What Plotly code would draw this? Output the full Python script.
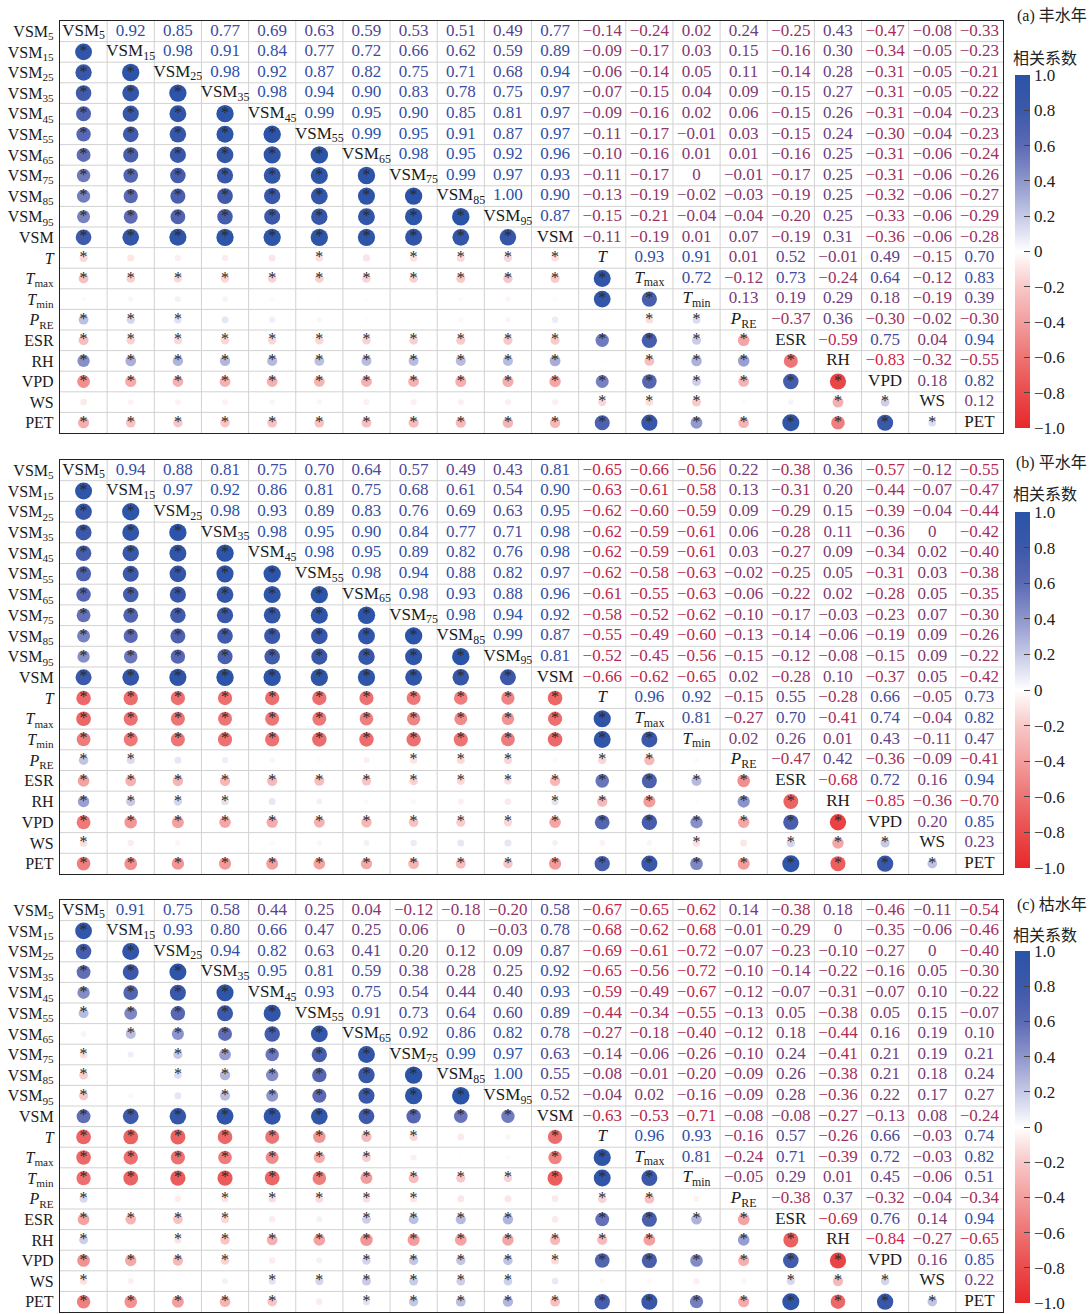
import plotly.graph_objects as go

# ---------------- data ----------------
variables = ["VSM5", "VSM15", "VSM25", "VSM35", "VSM45", "VSM55", "VSM65", "VSM75",
             "VSM85", "VSM95", "VSM", "T", "Tmax", "Tmin", "PRE", "ESR", "RH", "VPD", "WS", "PET"]
var_labels = ["VSM<sub>5</sub>", "VSM<sub>15</sub>", "VSM<sub>25</sub>", "VSM<sub>35</sub>",
              "VSM<sub>45</sub>", "VSM<sub>55</sub>", "VSM<sub>65</sub>", "VSM<sub>75</sub>",
              "VSM<sub>85</sub>", "VSM<sub>95</sub>", "VSM", "<i>T</i>", "<i>T</i><sub>max</sub>",
              "<i>T</i><sub>min</sub>", "<i>P</i><sub>RE</sub>", "ESR", "RH", "VPD", "WS", "PET"]
panel_titles = ["(a) 丰水年", "(b) 平水年", "(c) 枯水年"]
cbar_title = "相关系数"
cbar_tickvals = [1.0, 0.8, 0.6, 0.4, 0.2, 0, -0.2, -0.4, -0.6, -0.8, -1.0]
cbar_ticktext = ["1.0", "0.8", "0.6", "0.4", "0.2", "0", "−0.2", "−0.4", "−0.6", "−0.8", "−1.0"]
# |r| at or above this is marked significant (*) in each panel
sig_threshold = [0.105, 0.095, 0.095]

# upper-triangle rows (row i holds r(i, j) for j > i)
r_wet = [
    [0.92, 0.85, 0.77, 0.69, 0.63, 0.59, 0.53, 0.51, 0.49, 0.77, -0.14, -0.24, 0.02, 0.24, -0.25, 0.43, -0.47, -0.08, -0.33],
    [0.98, 0.91, 0.84, 0.77, 0.72, 0.66, 0.62, 0.59, 0.89, -0.09, -0.17, 0.03, 0.15, -0.16, 0.30, -0.34, -0.05, -0.23],
    [0.98, 0.92, 0.87, 0.82, 0.75, 0.71, 0.68, 0.94, -0.06, -0.14, 0.05, 0.11, -0.14, 0.28, -0.31, -0.05, -0.21],
    [0.98, 0.94, 0.90, 0.83, 0.78, 0.75, 0.97, -0.07, -0.15, 0.04, 0.09, -0.15, 0.27, -0.31, -0.05, -0.22],
    [0.99, 0.95, 0.90, 0.85, 0.81, 0.97, -0.09, -0.16, 0.02, 0.06, -0.15, 0.26, -0.31, -0.04, -0.23],
    [0.99, 0.95, 0.91, 0.87, 0.97, -0.11, -0.17, -0.01, 0.03, -0.15, 0.24, -0.30, -0.04, -0.23],
    [0.98, 0.95, 0.92, 0.96, -0.10, -0.16, 0.01, 0.01, -0.16, 0.25, -0.31, -0.06, -0.24],
    [0.99, 0.97, 0.93, -0.11, -0.17, 0, -0.01, -0.17, 0.25, -0.31, -0.06, -0.26],
    [1.00, 0.90, -0.13, -0.19, -0.02, -0.03, -0.19, 0.25, -0.32, -0.06, -0.27],
    [0.87, -0.15, -0.21, -0.04, -0.04, -0.20, 0.25, -0.33, -0.06, -0.29],
    [-0.11, -0.19, 0.01, 0.07, -0.19, 0.31, -0.36, -0.06, -0.28],
    [0.93, 0.91, 0.01, 0.52, -0.01, 0.49, -0.15, 0.70],
    [0.72, -0.12, 0.73, -0.24, 0.64, -0.12, 0.83],
    [0.13, 0.19, 0.29, 0.18, -0.19, 0.39],
    [-0.37, 0.36, -0.30, -0.02, -0.30],
    [-0.59, 0.75, 0.04, 0.94],
    [-0.83, -0.32, -0.55],
    [0.18, 0.82],
    [0.12],
]
r_normal = [
    [0.94, 0.88, 0.81, 0.75, 0.70, 0.64, 0.57, 0.49, 0.43, 0.81, -0.65, -0.66, -0.56, 0.22, -0.38, 0.36, -0.57, -0.12, -0.55],
    [0.97, 0.92, 0.86, 0.81, 0.75, 0.68, 0.61, 0.54, 0.90, -0.63, -0.61, -0.58, 0.13, -0.31, 0.20, -0.44, -0.07, -0.47],
    [0.98, 0.93, 0.89, 0.83, 0.76, 0.69, 0.63, 0.95, -0.62, -0.60, -0.59, 0.09, -0.29, 0.15, -0.39, -0.04, -0.44],
    [0.98, 0.95, 0.90, 0.84, 0.77, 0.71, 0.98, -0.62, -0.59, -0.61, 0.06, -0.28, 0.11, -0.36, 0, -0.42],
    [0.98, 0.95, 0.89, 0.82, 0.76, 0.98, -0.62, -0.59, -0.61, 0.03, -0.27, 0.09, -0.34, 0.02, -0.40],
    [0.98, 0.94, 0.88, 0.82, 0.97, -0.62, -0.58, -0.63, -0.02, -0.25, 0.05, -0.31, 0.03, -0.38],
    [0.98, 0.93, 0.88, 0.96, -0.61, -0.55, -0.63, -0.06, -0.22, 0.02, -0.28, 0.05, -0.35],
    [0.98, 0.94, 0.92, -0.58, -0.52, -0.62, -0.10, -0.17, -0.03, -0.23, 0.07, -0.30],
    [0.99, 0.87, -0.55, -0.49, -0.60, -0.13, -0.14, -0.06, -0.19, 0.09, -0.26],
    [0.81, -0.52, -0.45, -0.56, -0.15, -0.12, -0.08, -0.15, 0.09, -0.22],
    [-0.66, -0.62, -0.65, 0.02, -0.28, 0.10, -0.37, 0.05, -0.42],
    [0.96, 0.92, -0.15, 0.55, -0.28, 0.66, -0.05, 0.73],
    [0.81, -0.27, 0.70, -0.41, 0.74, -0.04, 0.82],
    [0.02, 0.26, 0.01, 0.43, -0.11, 0.47],
    [-0.47, 0.42, -0.36, -0.09, -0.41],
    [-0.68, 0.72, 0.16, 0.94],
    [-0.85, -0.36, -0.70],
    [0.20, 0.85],
    [0.23],
]
r_dry = [
    [0.91, 0.75, 0.58, 0.44, 0.25, 0.04, -0.12, -0.18, -0.20, 0.58, -0.67, -0.65, -0.62, 0.14, -0.38, 0.18, -0.46, -0.11, -0.54],
    [0.93, 0.80, 0.66, 0.47, 0.25, 0.06, 0, -0.03, 0.78, -0.68, -0.62, -0.68, -0.01, -0.29, 0, -0.35, -0.06, -0.46],
    [0.94, 0.82, 0.63, 0.41, 0.20, 0.12, 0.09, 0.87, -0.69, -0.61, -0.72, -0.07, -0.23, -0.10, -0.27, 0, -0.40],
    [0.95, 0.81, 0.59, 0.38, 0.28, 0.25, 0.92, -0.65, -0.56, -0.72, -0.10, -0.14, -0.22, -0.16, 0.05, -0.30],
    [0.93, 0.75, 0.54, 0.44, 0.40, 0.93, -0.59, -0.49, -0.67, -0.12, -0.07, -0.31, -0.07, 0.10, -0.22],
    [0.91, 0.73, 0.64, 0.60, 0.89, -0.44, -0.34, -0.55, -0.13, 0.05, -0.38, 0.05, 0.15, -0.07],
    [0.92, 0.86, 0.82, 0.78, -0.27, -0.18, -0.40, -0.12, 0.18, -0.44, 0.16, 0.19, 0.10],
    [0.99, 0.97, 0.63, -0.14, -0.06, -0.26, -0.10, 0.24, -0.41, 0.21, 0.19, 0.21],
    [1.00, 0.55, -0.08, -0.01, -0.20, -0.09, 0.26, -0.38, 0.21, 0.18, 0.24],
    [0.52, -0.04, 0.02, -0.16, -0.09, 0.28, -0.36, 0.22, 0.17, 0.27],
    [-0.63, -0.53, -0.71, -0.08, -0.08, -0.27, -0.13, 0.08, -0.24],
    [0.96, 0.93, -0.16, 0.57, -0.26, 0.66, -0.03, 0.74],
    [0.81, -0.24, 0.71, -0.39, 0.72, -0.03, 0.82],
    [-0.05, 0.29, 0.01, 0.45, -0.06, 0.51],
    [-0.38, 0.37, -0.32, -0.04, -0.34],
    [-0.69, 0.76, 0.14, 0.94],
    [-0.84, -0.27, -0.65],
    [0.16, 0.85],
    [0.22],
]
panels = [r_wet, r_normal, r_dry]

# ---------------- styling ----------------
W, H = 1092, 1314
N = len(variables)
panel_px = [(21, 433), (460, 874), (900, 1312)]   # top, bottom (px)
plot_x_px = (60, 1003)
cbar_px = [(75, 428), (512, 868), (951, 1303)]
title_y_px = [16, 463, 905]
cbt_y_px = [57, 493, 934]
SERIF = "Liberation Serif, Times New Roman, serif"
CJK = "Liberation Serif, Noto Sans CJK SC, sans-serif"
colorscale = [
    [0.0, "rgb(232,40,42)"], [0.1, "rgb(234,75,75)"], [0.2, "rgb(238,115,115)"],
    [0.3, "rgb(243,158,158)"], [0.4, "rgb(248,200,200)"], [0.5, "rgb(255,255,255)"],
    [0.6, "rgb(198,201,230)"], [0.7, "rgb(142,150,204)"], [0.8, "rgb(92,106,180)"],
    [0.9, "rgb(60,88,170)"], [1.0, "rgb(42,84,168)"]]
RED = (222, 30, 52)
BLUE = (40, 82, 172)


def text_color(v):
    t = (v + 1) / 2
    c = [round(RED[k] + (BLUE[k] - RED[k]) * t) for k in range(3)]
    return f"rgb({c[0]},{c[1]},{c[2]})"


def fmt(v):
    if v == 0:
        return "0"
    s = f"{v:.2f}"
    return s.replace("-", "−")


def px_to_py(p):
    return 1 - p / H


fig = go.Figure()
shapes = []
annotations = []
layout = {}

for k, rows in enumerate(panels):
    assert all(len(rows[i]) == N - 1 - i for i in range(N - 1))
    sfx = "" if k == 0 else str(k + 1)
    xa, ya = "x" + sfx, "y" + sfx
    cax = "coloraxis" + sfx

    # full matrix
    M = [[None] * N for _ in range(N)]
    for i in range(N - 1):
        for j in range(i + 1, N):
            M[i][j] = rows[i][j - i - 1]
            M[j][i] = M[i][j]

    # lower triangle circles
    cx, cy, cv, cs, sx, sy = [], [], [], [], [], []
    for i in range(N):
        for j in range(i):
            v = M[i][j]
            cx.append(j + 1)
            cy.append(i + 1)
            cv.append(v)
            cs.append(2.5 + 15 * abs(v) ** 0.5)
            if abs(v) >= sig_threshold[k]:
                sx.append(j + 1)
                sy.append(i + 1)
    fig.add_trace(go.Scatter(
        x=cx, y=cy, mode="markers", xaxis=xa, yaxis=ya, hoverinfo="skip", showlegend=False,
        marker=dict(size=cs, color=cv, coloraxis=cax, line=dict(width=0), opacity=1)))
    fig.add_trace(go.Scatter(
        x=sx, y=sy, mode="text", text=["*"] * len(sx), xaxis=xa, yaxis=ya, hoverinfo="skip",
        showlegend=False, textposition="middle center",
        textfont=dict(family=SERIF, size=16, color="#2a2a2a")))

    # upper triangle numbers
    tx, ty, tt, tc = [], [], [], []
    for i in range(N):
        for j in range(i + 1, N):
            v = M[i][j]
            tx.append(j + 1)
            ty.append(i + 1)
            tt.append(fmt(v))
            tc.append(text_color(v))
    fig.add_trace(go.Scatter(
        x=tx, y=ty, mode="text", text=tt, xaxis=xa, yaxis=ya, hoverinfo="skip", showlegend=False,
        textposition="middle center", textfont=dict(family=SERIF, size=17, color=tc)))

    # diagonal labels
    fig.add_trace(go.Scatter(
        x=list(range(1, N + 1)), y=list(range(1, N + 1)), mode="text", text=var_labels,
        xaxis=xa, yaxis=ya, hoverinfo="skip", showlegend=False, textposition="middle center",
        textfont=dict(family=SERIF, size=17, color="#1a1a1a")))

    top, bot = panel_px[k]
    layout["xaxis" + sfx] = dict(
        domain=[plot_x_px[0] / W, plot_x_px[1] / W], range=[0.5, N + 0.5], anchor=ya,
        showgrid=False, zeroline=False, showticklabels=False, ticks="",
        showline=True, mirror=True, linecolor="#222", linewidth=1.3, fixedrange=True)
    layout["yaxis" + sfx] = dict(
        domain=[px_to_py(bot), px_to_py(top)], range=[N + 0.5, 0.5], anchor=xa,
        showgrid=False, zeroline=False, tickmode="array", tickvals=list(range(1, N + 1)),
        ticktext=var_labels, ticks="", ticklabelstandoff=2,
        tickfont=dict(family=SERIF, size=16, color="#1a1a1a"),
        showline=True, mirror=True, linecolor="#222", linewidth=1.3, fixedrange=True)

    for g in range(1, N):
        shapes.append(dict(type="line", xref=xa, yref=ya, x0=g + 0.5, x1=g + 0.5, y0=0.5, y1=N + 0.5,
                           line=dict(color="#d2d2d2", width=1), layer="below"))
        shapes.append(dict(type="line", xref=xa, yref=ya, y0=g + 0.5, y1=g + 0.5, x0=0.5, x1=N + 0.5,
                           line=dict(color="#d2d2d2", width=1), layer="below"))

    ct, cb = cbar_px[k]
    layout[cax] = dict(
        cmin=-1, cmax=1, colorscale=colorscale,
        colorbar=dict(
            x=1015 / W, xanchor="left", y=px_to_py((ct + cb) / 2), yanchor="middle",
            len=cb - ct, lenmode="pixels", thickness=15, thicknessmode="pixels",
            xpad=0, ypad=0, outlinewidth=0, ticks="inside", ticklen=6, tickwidth=1.3,
            tickcolor="#444", tickmode="array", tickvals=cbar_tickvals, ticktext=cbar_ticktext,
            tickfont=dict(family=SERIF, size=17, color="#222")))

    annotations.append(dict(
        x=1089 / W, y=px_to_py(title_y_px[k]), xref="paper", yref="paper", xanchor="right",
        yanchor="middle", showarrow=False, text=panel_titles[k],
        font=dict(family=CJK, size=16, color="#222")))
    annotations.append(dict(
        x=1011 / W, y=px_to_py(cbt_y_px[k]), xref="paper", yref="paper", xanchor="left",
        yanchor="middle", showarrow=False, text=cbar_title,
        font=dict(family="Noto Sans CJK SC, sans-serif", size=16, color="#222")))

fig.update_layout(
    width=W, height=H, margin=dict(l=0, r=0, t=0, b=0),
    paper_bgcolor="white", plot_bgcolor="white",
    shapes=shapes, annotations=annotations, showlegend=False, **layout)

fig.write_html("out.html", config={"displayModeBar": False},
               post_script="document.body.style.margin='0';document.body.style.overflow='hidden';")
